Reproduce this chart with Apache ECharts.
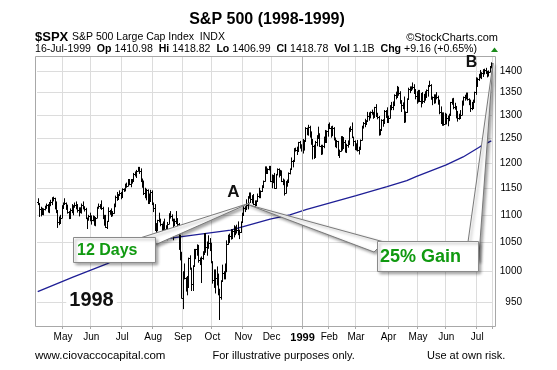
<!DOCTYPE html>
<html><head><meta charset="utf-8">
<script src="https://cdn.jsdelivr.net/npm/echarts@6/dist/echarts.min.js"></script>
<style>html,body{margin:0;padding:0;background:#fff}#c{width:557px;height:370px}</style>
</head><body><div id="c"></div>
<script>
// Trading days per month shown on the chart
const monthDays = [
 ['1998-04',[6,7,8,9,13,14,15,16,17,20,21,22,23,24,27,28,29,30]],
 ['1998-05',[1,4,5,6,7,8,11,12,13,14,15,18,19,20,21,22,26,27,28,29]],
 ['1998-06',[1,2,3,4,5,8,9,10,11,12,15,16,17,18,19,22,23,24,25,26,29,30]],
 ['1998-07',[1,2,6,7,8,9,10,13,14,15,16,17,20,21,22,23,24,27,28,29,30,31]],
 ['1998-08',[3,4,5,6,7,10,11,12,13,14,17,18,19,20,21,24,25,26,27,28,31]],
 ['1998-09',[1,2,3,4,8,9,10,11,14,15,16,17,18,21,22,23,24,25,28,29,30]],
 ['1998-10',[1,2,5,6,7,8,9,12,13,14,15,16,19,20,21,22,23,26,27,28,29,30]],
 ['1998-11',[2,3,4,5,6,9,10,11,12,13,16,17,18,19,20,23,24,25,27,30]],
 ['1998-12',[1,2,3,4,7,8,9,10,11,14,15,16,17,18,21,22,23,24,28,29,30,31]],
 ['1999-01',[4,5,6,7,8,11,12,13,14,15,19,20,21,22,25,26,27,28,29]],
 ['1999-02',[1,2,3,4,5,8,9,10,11,12,16,17,18,19,22,23,24,25,26]],
 ['1999-03',[1,2,3,4,5,8,9,10,11,12,15,16,17,18,19,22,23,24,25,26,29,30,31]],
 ['1999-04',[1,5,6,7,8,9,12,13,14,15,16,19,20,21,22,23,26,27,28,29,30]],
 ['1999-05',[3,4,5,6,7,10,11,12,13,14,17,18,19,20,21,24,25,26,27,28]],
 ['1999-06',[1,2,3,4,7,8,9,10,11,14,15,16,17,18,21,22,23,24,25,28,29,30]],
 ['1999-07',[1,2,6,7,8,9,12,13,14,15,16]]
];

const openPx = [
 1123,1121,1110,1102,1111,1110,1116,1119,1108,1123,1124,1127,1131,1120,1108,1087,1085,1095,
 1112,1121,1122,1116,1105,1095,1108,1107,1116,1119,1117,1109,1106,1110,1119,1115,1110,1094,1092,1098,
 1091,1091,1093,1083,1095,1114,1116,1118,1112,1095,1099,1077,1088,1107,1106,1101,1103,1119,1133,1129,1137,1140,
 1134,1149,1146,1157,1155,1166,1159,1164,1165,1178,1175,1184,1187,1184,1165,1164,1140,1141,1147,1130,1125,1143,
 1121,1112,1072,1081,1090,1089,1083,1069,1084,1075,1063,1084,1101,1098,1092,1081,1088,1093,1084,1043,1027,
 957,994,990,982,974,1023,1006,980,1009,1030,1038,1045,1019,1020,1024,1030,1066,1043,1045,1049,1049,
 1017,986,1003,989,985,971,959,984,998,995,1006,1047,1056,1062,1064,1070,1078,1071,1072,1065,1068,1086,
 1099,1112,1111,1119,1134,1141,1130,1128,1121,1118,1126,1136,1139,1144,1153,1164,1188,1179,1187,1192,
 1164,1175,1171,1150,1177,1188,1181,1183,1165,1166,1141,1163,1162,1180,1188,1203,1204,1229,1226,1225,1242,1232,
 1229,1228,1245,1272,1270,1275,1264,1240,1234,1212,1243,1252,1257,1235,1225,1234,1252,1243,1265,
 1280,1273,1262,1272,1248,1239,1244,1216,1224,1254,1230,1242,1224,1237,1239,1272,1271,1253,1245,
 1238,1236,1226,1228,1247,1275,1283,1280,1287,1298,1295,1307,1306,1298,1317,1299,1297,1262,1269,1290,1283,1310,1301,
 1286,1294,1321,1318,1327,1344,1348,1359,1350,1328,1323,1319,1289,1306,1336,1359,1357,1360,1363,1351,1343,
 1335,1355,1332,1347,1332,1345,1340,1356,1364,1368,1338,1339,1333,1344,1339,1330,1307,1284,1305,1281,
 1302,1294,1295,1300,1328,1335,1317,1319,1303,1294,1294,1301,1330,1340,1343,1349,1336,1333,1316,1315,1331,1351,
 1373,1381,1391,1388,1396,1394,1403,1399,1394,1398,1411
];
const highPx = [
 1130,1121,1114,1112,1111,1116,1120,1119,1123,1127,1132,1133,1131,1124,1108,1096,1099,1117,
 1122,1130,1122,1118,1106,1111,1119,1117,1122,1124,1119,1113,1113,1120,1124,1115,1112,1094,1099,1103,
 1098,1098,1097,1095,1114,1120,1119,1126,1114,1099,1099,1088,1113,1108,1111,1106,1120,1135,1142,1138,1145,1142,
 1149,1149,1158,1160,1167,1167,1167,1167,1179,1182,1185,1191,1191,1188,1168,1164,1150,1148,1147,1139,1146,1145,
 1122,1119,1084,1090,1103,1092,1083,1087,1092,1080,1086,1102,1106,1100,1092,1092,1106,1093,1084,1063,1033,
 1000,1013,990,992,1023,1027,1006,1010,1038,1038,1046,1045,1023,1025,1034,1066,1066,1051,1062,1057,1049,
 1017,1003,1003,1008,996,971,985,1011,1000,1013,1053,1063,1065,1073,1073,1080,1078,1081,1087,1072,1087,1103,
 1115,1115,1128,1134,1141,1141,1136,1138,1126,1126,1139,1150,1145,1155,1164,1192,1192,1188,1193,1193,
 1176,1175,1179,1177,1188,1188,1185,1184,1168,1166,1163,1166,1180,1188,1210,1205,1229,1230,1232,1242,1244,1237,
 1248,1246,1273,1272,1278,1276,1264,1248,1236,1244,1256,1274,1260,1236,1236,1253,1267,1266,1280,
 1283,1275,1276,1273,1251,1246,1244,1226,1254,1254,1252,1246,1238,1245,1272,1275,1283,1253,1245,
 1239,1246,1232,1247,1276,1284,1291,1288,1306,1305,1307,1311,1306,1317,1323,1304,1297,1269,1290,1290,1310,1310,1316,
 1298,1321,1328,1329,1345,1351,1364,1362,1352,1332,1327,1340,1307,1336,1360,1363,1363,1372,1368,1357,1352,
 1355,1355,1348,1350,1346,1352,1356,1366,1376,1368,1340,1345,1345,1350,1342,1333,1318,1305,1305,1304,
 1302,1298,1302,1328,1336,1337,1326,1319,1308,1302,1310,1331,1340,1344,1349,1349,1336,1333,1328,1333,1351,1384,
 1383,1392,1401,1396,1403,1404,1406,1399,1400,1410,1419
];
const lowPx = [
 1119,1097,1098,1102,1100,1109,1112,1105,1104,1117,1119,1126,1111,1104,1077,1082,1085,1095,
 1112,1120,1110,1103,1093,1095,1104,1100,1114,1111,1105,1098,1104,1103,1111,1107,1093,1075,1090,1089,
 1083,1089,1081,1080,1095,1112,1112,1110,1093,1081,1077,1075,1088,1101,1097,1098,1103,1115,1127,1129,1137,1130,
 1134,1144,1145,1152,1155,1157,1153,1160,1165,1174,1171,1184,1179,1163,1152,1138,1132,1128,1121,1121,1125,1119,
 1106,1072,1058,1071,1087,1080,1056,1069,1074,1058,1055,1084,1094,1089,1055,1081,1084,1076,1038,1020,957,
 940,988,968,962,974,1004,969,969,1009,1022,1028,1016,1012,982,1021,1030,1033,1028,1040,1036,1015,
 981,974,965,978,962,923,955,984,988,988,1000,1047,1050,1056,1057,1060,1064,1067,1064,1057,1068,1086,
 1099,1106,1111,1111,1131,1123,1122,1119,1114,1118,1126,1132,1132,1144,1153,1164,1179,1179,1186,1163,
 1151,1161,1150,1150,1176,1172,1175,1163,1157,1137,1141,1154,1162,1178,1188,1192,1204,1224,1217,1223,1230,1224,
 1220,1226,1245,1258,1257,1253,1238,1208,1209,1212,1235,1252,1234,1217,1218,1231,1242,1243,1255,
 1271,1253,1256,1247,1233,1231,1215,1211,1224,1226,1230,1222,1221,1232,1239,1265,1253,1235,1227,
 1226,1224,1218,1228,1247,1272,1275,1280,1287,1289,1294,1302,1293,1295,1298,1292,1257,1258,1269,1276,1283,1295,1285,
 1284,1294,1312,1312,1321,1336,1339,1344,1326,1308,1314,1284,1285,1306,1336,1350,1356,1358,1348,1336,1326,
 1329,1330,1318,1326,1328,1333,1340,1342,1364,1335,1323,1326,1327,1336,1324,1303,1284,1278,1278,1281,
 1281,1277,1288,1300,1324,1314,1313,1294,1287,1291,1294,1301,1322,1333,1336,1333,1323,1308,1312,1315,1328,1346,
 1364,1378,1384,1382,1387,1393,1394,1386,1388,1398,1407
];
const closePx = [
 1121,1110,1102,1111,1110,1116,1119,1108,1123,1124,1127,1131,1120,1108,1087,1085,1095,1112,
 1121,1122,1116,1105,1095,1108,1107,1116,1119,1117,1109,1106,1110,1119,1115,1110,1094,1092,1098,1091,
 1091,1093,1083,1095,1114,1116,1118,1112,1095,1099,1077,1088,1107,1106,1101,1103,1119,1133,1129,1137,1140,1134,
 1149,1146,1157,1155,1166,1159,1164,1165,1178,1175,1184,1187,1184,1165,1164,1140,1141,1147,1130,1125,1143,1121,
 1112,1072,1081,1090,1089,1083,1069,1084,1075,1063,1084,1101,1098,1092,1081,1088,1093,1084,1043,1027,957,
 994,990,982,974,1023,1006,980,1009,1030,1038,1045,1019,1020,1024,1030,1066,1043,1045,1049,1049,1017,
 986,1003,989,985,971,959,984,998,995,1006,1047,1056,1062,1064,1070,1078,1071,1072,1065,1068,1086,1099,
 1112,1111,1119,1134,1141,1130,1128,1121,1118,1126,1136,1139,1144,1153,1164,1188,1179,1187,1192,1164,
 1175,1171,1150,1177,1188,1181,1183,1165,1166,1141,1163,1162,1180,1188,1203,1204,1229,1226,1225,1242,1232,1229,
 1228,1245,1272,1270,1275,1264,1240,1234,1212,1243,1252,1257,1235,1225,1234,1252,1243,1265,1280,
 1273,1262,1272,1248,1239,1244,1216,1224,1254,1230,1242,1224,1237,1239,1272,1271,1253,1245,1238,
 1236,1226,1228,1247,1275,1283,1280,1287,1298,1295,1307,1306,1298,1317,1299,1297,1262,1269,1290,1283,1310,1301,1286,
 1294,1321,1318,1327,1344,1348,1359,1350,1328,1323,1319,1289,1306,1336,1359,1357,1360,1363,1351,1343,1335,
 1355,1332,1347,1332,1345,1340,1356,1364,1368,1338,1339,1333,1344,1339,1330,1307,1284,1305,1281,1302,
 1294,1295,1300,1328,1335,1317,1319,1303,1294,1294,1301,1330,1340,1343,1349,1336,1333,1316,1315,1331,1351,1373,
 1381,1391,1388,1396,1394,1403,1399,1394,1398,1410,1419
];
// 200-day moving average at these trading-day indices
const maIdx = [0,25,49,83,101,137,165,179,191,226,248,262,269,290,302,314,322];
const maVal = [967,991,1013,1054,1060,1072,1092,1100,1110,1136,1153,1165,1173,1196,1212,1233,1245];

const yTicks = [950,1000,1050,1100,1150,1200,1250,1300,1350,1400];
const xTickLabels = ['May','Jun','Jul','Aug','Sep','Oct','Nov','Dec','1999','Feb','Mar','Apr','May','Jun','Jul'];

const dates = monthDays.flatMap(([m, ds]) => ds.map(d => m + '-' + String(d).padStart(2,'0')));
const monthStarts = [];
dates.forEach((d,i)=>{ if(i>0 && d.slice(0,7)!==dates[i-1].slice(0,7)) monthStarts.push(i); });
const labelOf = {}; monthStarts.forEach((i,k)=>labelOf[i]=xTickLabels[k]);
const janIdx = dates.indexOf('1999-01-04');

const ohlc = dates.map((d,i)=>[i, openPx[i], highPx[i], lowPx[i], closePx[i]]);
const maData = maIdx.map((i,k)=>[i, maVal[k]]);

const FONT = 'Liberation Sans, Arial, sans-serif';
const chart = echarts.init(document.getElementById('c'), null, {renderer:'canvas'});

const shadow = {shadowBlur:3, shadowColor:'rgba(0,0,0,0.35)', shadowOffsetX:2, shadowOffsetY:2};

chart.setOption({
  animation:false,
  backgroundColor:'#fff',
  grid:{left:37, right:65, top:57, bottom:44, show:false},
  xAxis:{
    type:'category', data:dates, boundaryGap:true,
    axisLine:{show:false},
    axisTick:{show:true, length:3, interval:(i)=>labelOf[i]!==undefined, lineStyle:{color:'#aaa'}},
    axisLabel:{interval:(i)=>labelOf[i]!==undefined, margin:6, fontSize:10, fontFamily:FONT, color:'#000',
      formatter:(v,i)=>{ const t=labelOf[i]; return t==='1999' ? '{b|1999}' : t; },
      rich:{b:{fontWeight:'bold', fontSize:11, fontFamily:FONT, color:'#000'}}},
    splitLine:{show:true, interval:(i)=>labelOf[i]!==undefined && i!==janIdx, lineStyle:{color:'#dcdcdc', width:1}}
  },
  yAxis:{
    type:'log', logBase:10, min:913, max:1433, position:'right',
    axisLine:{show:false},
    axisTick:{show:false, customValues:yTicks},
    axisLabel:{customValues:yTicks, align:'right', margin:30, fontSize:10, fontFamily:FONT, color:'#000',
      formatter:(v)=>String(Math.round(v))},
    splitLine:{show:true, lineStyle:{color:'#dcdcdc', width:1}}
  },
  series:[
    {
      type:'line', data:maData, symbol:'none', z:3,
      lineStyle:{color:'#1f1f96', width:1.3},
      markLine:{silent:true, symbol:'none', label:{show:false},
        lineStyle:{color:'#b4b4b4', type:'solid', width:1},
        data:[{xAxis:janIdx}]}
    },
    {
      type:'custom', data:ohlc, z:4,
      encode:{x:0, y:[1,2,3,4]},
      renderItem:function(params, api){
        const i = api.value(0);
        const o = api.coord([i, api.value(1)]);
        const h = api.coord([i, api.value(2)]);
        const l = api.coord([i, api.value(3)]);
        const c = api.coord([i, api.value(4)]);
        const x = Math.round(h[0]) + 0.5;
        const oy = Math.round(o[1]) + 0.5, cy = Math.round(c[1]) + 0.5;
        const st = {stroke:'#000', lineWidth:1};
        return {type:'group', children:[
          {type:'line', shape:{x1:x, y1:h[1]-0.5, x2:x, y2:l[1]+0.5}, style:st},
          {type:'line', shape:{x1:x-1.5, y1:oy, x2:x, y2:oy}, style:st},
          {type:'line', shape:{x1:x, y1:cy, x2:x+1.5, y2:cy}, style:st}
        ]};
      }
    }
  ],
  graphic:{elements:[
    // plot frame
    {type:'rect', shape:{x:35.5, y:56.5, width:460, height:270}, style:{fill:null, stroke:'#a8a8a8', lineWidth:1}, z:50, silent:true},
    // header
    {type:'text', x:267, y:19.5, style:{text:'S&P 500 (1998-1999)', font:'bold 16px '+FONT, fill:'#000', align:'center', verticalAlign:'middle'}, z:60},
    {type:'text', x:35, y:37, style:{text:'$SPX', font:'bold 13px '+FONT, fill:'#000', verticalAlign:'middle'}, z:60},
    {type:'text', x:72, y:37.5, style:{text:'S&P 500 Large Cap Index  INDX', font:'10.5px '+FONT, fill:'#000', verticalAlign:'middle'}, z:60},
    {type:'text', x:498, y:37.5, style:{text:'©StockCharts.com', font:'11px '+FONT, fill:'#000', align:'right', verticalAlign:'middle'}, z:60},
    {type:'text', x:35, y:49.5, style:{
      text:'16-Jul-1999  {b|Op} 1410.98  {b|Hi} 1418.82  {b|Lo} 1406.99  {b|Cl} 1418.78  {b|Vol} 1.1B  {b|Chg} +9.16 (+0.65%)',
      font:'10.6px '+FONT, fill:'#000', verticalAlign:'middle',
      rich:{b:{font:'bold 10.6px '+FONT, fill:'#000'}}}, z:60},
    {type:'polygon', shape:{points:[[491,52],[498,52],[494.5,47.5]]}, style:{fill:'#1c8c1c'}, z:60},
    // callout wedges
    {type:'polygon', shape:{points:[[140,238],[250,203],[157,244]]}, style:Object.assign({fill:'#fff', stroke:'#7a7a7a', lineWidth:1}, shadow), z:70},
    {type:'polygon', shape:{points:[[249,205],[384,242],[374,252]]}, style:Object.assign({fill:'#fff', stroke:'#7a7a7a', lineWidth:1}, shadow), z:70},
    {type:'polygon', shape:{points:[[468,242],[493,63],[478.5,262]]}, style:Object.assign({fill:'#fff', stroke:'#7a7a7a', lineWidth:1}, shadow), z:70},
    // callout boxes
    {type:'rect', shape:{x:73.5, y:237.5, width:82, height:25}, style:Object.assign({fill:'#fff', stroke:'#8a8a8a', lineWidth:1}, shadow), z:72},
    {type:'text', x:77, y:250.5, style:{text:'12 Days', font:'bold 16px '+FONT, fill:'#119a11', verticalAlign:'middle'}, z:73},
    {type:'rect', shape:{x:377.5, y:241.5, width:101, height:30}, style:Object.assign({fill:'#fff', stroke:'#8a8a8a', lineWidth:1}, shadow), z:72},
    {type:'text', x:380, y:257.5, style:{text:'25% Gain', font:'bold 18px '+FONT, fill:'#119a11', verticalAlign:'middle'}, z:73},
    // letters
    {type:'text', x:233.5, y:192, style:{text:'A', font:'bold 17px '+FONT, fill:'#111', align:'center', verticalAlign:'middle'}, z:74},
    {type:'text', x:471.5, y:63, style:{text:'B', font:'bold 16px '+FONT, fill:'#111', align:'center', verticalAlign:'middle'}, z:74},
    {type:'text', x:91.5, y:300, style:{text:'1998', font:'bold 20px '+FONT, fill:'#111', align:'center', verticalAlign:'middle', backgroundColor:'#fff', padding:[0,3]}, z:74},
    // footer
    {type:'text', x:35, y:355.5, style:{text:'www.ciovaccocapital.com', font:'11.5px '+FONT, fill:'#000', verticalAlign:'middle'}, z:60},
    {type:'text', x:212.5, y:355.5, style:{text:'For illustrative purposes only.', font:'11px '+FONT, fill:'#000', verticalAlign:'middle'}, z:60},
    {type:'text', x:427, y:355.5, style:{text:'Use at own risk.', font:'11px '+FONT, fill:'#000', verticalAlign:'middle'}, z:60}
  ]}
});
</script></body></html>
